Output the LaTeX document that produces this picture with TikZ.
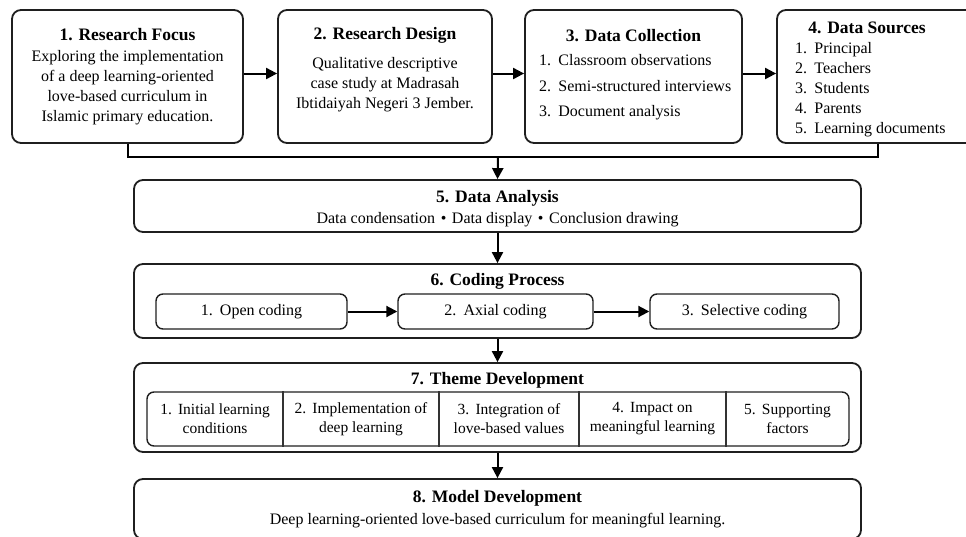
\documentclass[tikz,border=0pt]{standalone}
\usepackage{fontspec}
\setmainfont{Liberation Serif}
\usetikzlibrary{arrows.meta}
\begin{document}
\begin{tikzpicture}[x=1pt,y=-1pt,
  box/.style={draw=black!88, line width=1.8pt, rounded corners=9pt, inner sep=0pt, fill=white},
  ibox/.style={draw=black!88, line width=1.4pt, rounded corners=7pt, inner sep=0pt},
  ttl/.style={font=\fontsize{17.5}{20}\selectfont\bfseries, inner sep=0pt},
  txt/.style={font=\fontsize{16}{20}\selectfont, inner sep=0pt, align=center},
  lst/.style={font=\fontsize{16}{20}\selectfont, inner sep=0pt, align=left, anchor=west},
  cell/.style={font=\fontsize{15.5}{19}\selectfont, inner sep=0pt, align=center},
  arr/.style={line width=2pt, -{Triangle[length=11pt,width=11pt]}},
  conn/.style={line width=2pt},
  divl/.style={line width=1.1pt, draw=black!80},
]
\useasboundingbox (0,0) rectangle (966,536);
\fill[white] (0,0) rectangle (966,536);

% top row
\node[box, minimum width=231pt, minimum height=133pt] (b1) at (127.5,76.5) {};
\node[box, minimum width=214pt, minimum height=133pt] (b2) at (385,76.5) {};
\node[box, minimum width=217pt, minimum height=133pt] (b3) at (633.5,76.5) {};
\node[box, minimum width=202pt, minimum height=133pt] (b4) at (878,76.5) {};

\node[ttl] (t1) at (127.5,35) {1. Research Focus};
\node[txt] (d1) at (127.5,88) {Exploring the implementation\\of a deep learning-oriented\\love-based curriculum in\\Islamic primary education.};

\node[ttl] (t2) at (385,35) {2. Research Design};
\node[txt] (d2) at (385,85) {Qualitative descriptive\\case study at Madrasah\\Ibtidaiyah Negeri 3 Jember.};

\node[ttl] (t3) at (633.5,36) {3. Data Collection};
\node[lst, font=\fontsize{16}{25.5}\selectfont] (d3) at (539,87.5) {1.\hspace{0.45em}Classroom observations\\2.\hspace{0.45em}Semi-structured interviews\\3.\hspace{0.45em}Document analysis};

\node[ttl] (t4) at (867,28) {4. Data Sources};
\node[lst] (d4) at (795,90) {1.\hspace{0.45em}Principal\\2.\hspace{0.45em}Teachers\\3.\hspace{0.45em}Students\\4.\hspace{0.45em}Parents\\5.\hspace{0.45em}Learning documents};

\draw[arr] ([yshift=3pt]b1.east) -- ([yshift=3pt]b2.west);
\draw[arr] ([yshift=3pt]b2.east) -- ([yshift=3pt]b3.west);
\draw[arr] ([yshift=3pt]b3.east) -- ([yshift=3pt]b4.west);

% lower boxes
\node[box, minimum width=727pt, minimum height=52pt] (b5) at (497.5,206) {};
\node[box, minimum width=727pt, minimum height=74pt] (b6) at (497.5,301) {};
\node[box, minimum width=727pt, minimum height=89pt] (b7) at (497.5,407.5) {};
\node[box, minimum width=727pt, minimum height=60pt] (b8) at (497.5,509) {};

\coordinate (j) at (498,157);
\draw[conn] (b1.south) |- (j) -| (b4.south);
\draw[arr] (j) -- (b5.north);
\draw[arr] (b5.south) -- (b6.north);
\draw[arr] (b6.south) -- (b7.north);
\draw[arr] (b7.south) -- (b8.north);

\node[ttl] (t5) at (497.5,198) {5. Data Analysis};
\node[txt] (s5) at (497.5,219.5) {Data condensation \hspace{0.1em}\textbullet\hspace{0.1em} Data display \hspace{0.1em}\textbullet\hspace{0.1em} Conclusion drawing};

\node[ttl] (t6) at (497.5,281) {6. Coding Process};
\node[ibox, minimum width=191pt, minimum height=35pt] (c1) at (251.5,311.5) {};
\node[ibox, minimum width=195pt, minimum height=35pt] (c2) at (495.5,311.5) {};
\node[ibox, minimum width=189pt, minimum height=35pt] (c3) at (744.5,311.5) {};
\node[txt] at (c1) {1.\hspace{0.45em}Open coding};
\node[txt] at (c2) {2.\hspace{0.45em}Axial coding};
\node[txt] at (c3) {3.\hspace{0.45em}Selective coding};
\draw[arr] (c1.east) -- (c2.west);
\draw[arr] (c2.east) -- (c3.west);

\node[ttl] (t7) at (497.5,380) {7. Theme Development};
\node[ibox, minimum width=702pt, minimum height=54pt] (tb) at (498,419) {};
\foreach \xx in {283,439,579,726} \draw[divl] (tb.north -| \xx,0) -- (tb.south -| \xx,0);
\node[cell] (e1) at (215,419) {1.\hspace{0.4em}Initial learning\\conditions};
\node[cell] (e2) at (361,419) {2.\hspace{0.4em}Implementation of\\deep learning};
\node[cell] (e3) at (509,419) {3.\hspace{0.4em}Integration of\\love-based values};
\node[cell] (e4) at (652.5,419) {4.\hspace{0.4em}Impact on\\meaningful learning};
\node[cell] (e5) at (787.5,419) {5.\hspace{0.4em}Supporting\\factors};

\node[ttl] (t8) at (497.5,498) {8. Model Development};
\node[txt] (s8) at (497.5,520.5) {Deep learning-oriented love-based curriculum for meaningful learning.};
\end{tikzpicture}
\end{document}
